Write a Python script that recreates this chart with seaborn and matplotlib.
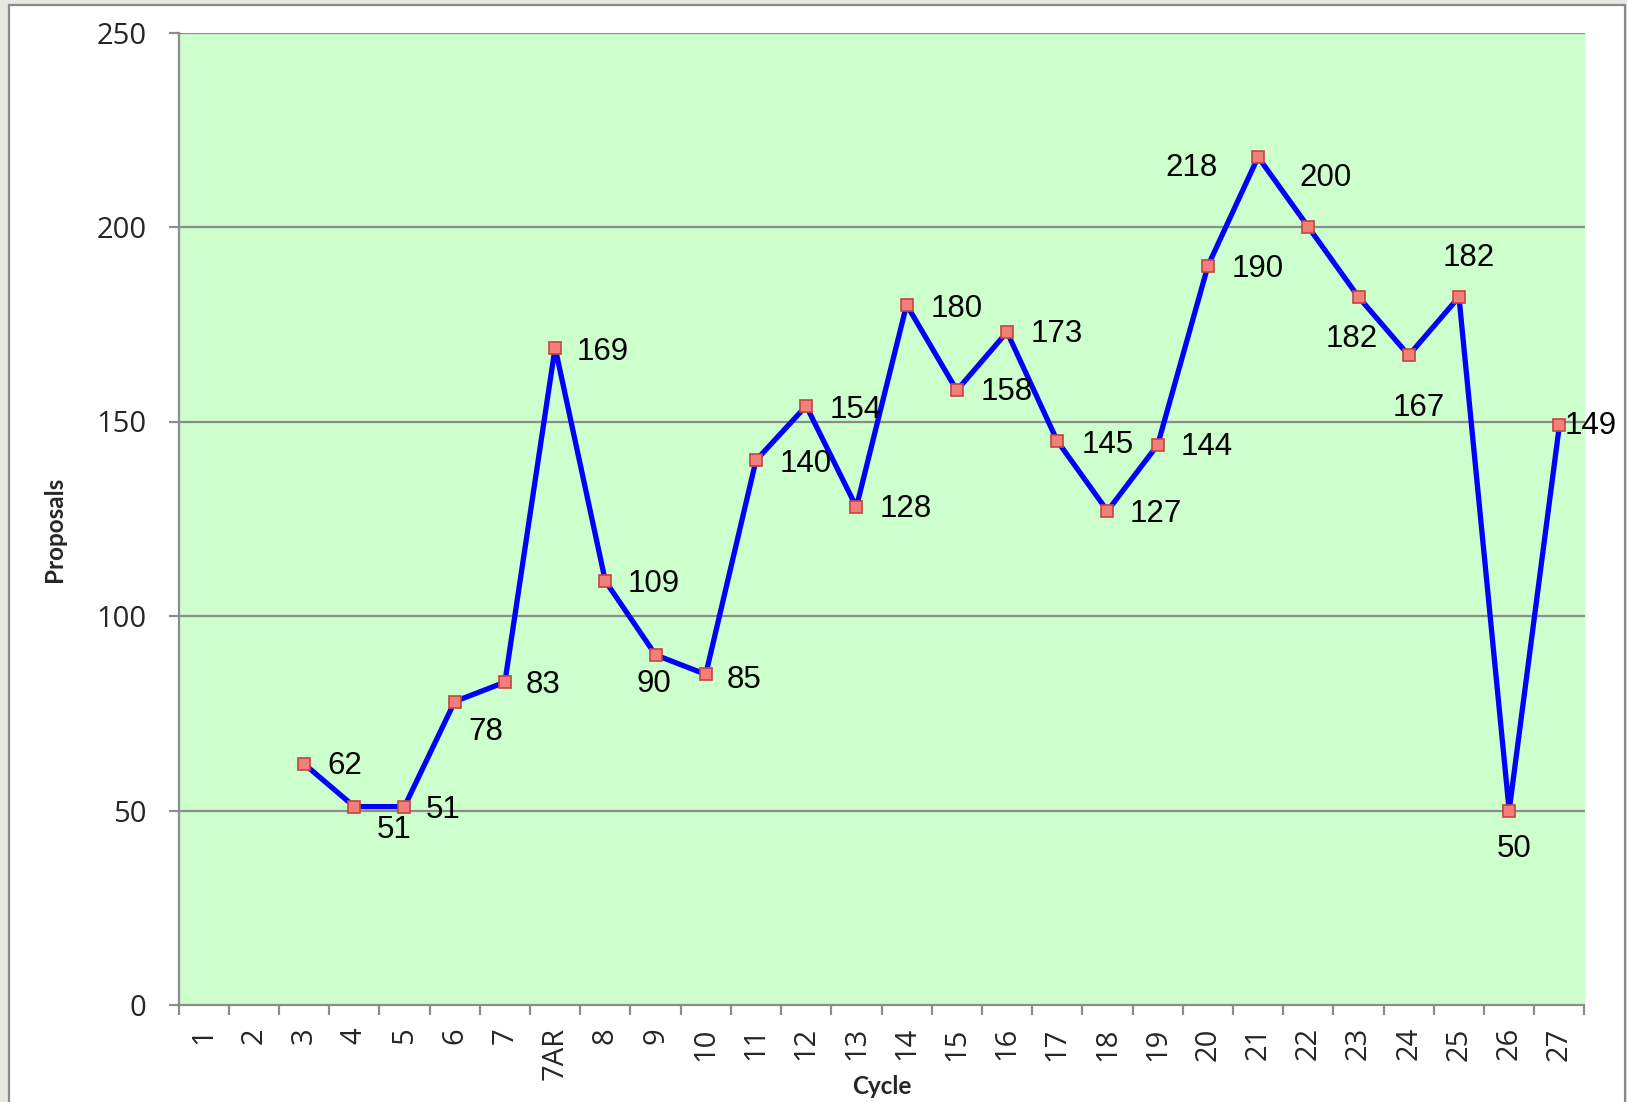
import numpy as np
import pandas as pd
import matplotlib
matplotlib.use("Agg")
import matplotlib.pyplot as plt
from matplotlib.patches import Rectangle
import seaborn as sns

# ---- data ----
categories = ["1", "2", "3", "4", "5", "6", "7", "7AR", "8", "9", "10", "11", "12",
              "13", "14", "15", "16", "17", "18", "19", "20", "21", "22", "23",
              "24", "25", "26", "27"]
proposals = [np.nan, np.nan, 62, 51, 51, 78, 83, 169, 109, 90, 85, 140, 154,
             128, 180, 158, 173, 145, 127, 144, 190, 218, 200, 182,
             167, 182, 50, 149]
y_ticks = [0, 50, 100, 150, 200, 250]

# label offsets (pixels, label centre relative to point; +y = down)
label_offsets = [None, None, (39, 2), (38, 23), (37, 3), (30, 29), (37, 3), (46, 4),
                 (47, 3), (-2, 28), (37, 5), (48, 3), (48, 4), (48, 2), (48, 4),
                 (48, 2), (48, 2), (49, 4), (47, 3), (47, 2), (48, 3), (-64, 11),
                 (17, -47), (-7, 40), (10, 51), (9, -38), (5, 37), (30, 1)]

sns.set_theme(style="white")
plt.rcParams['font.family'] = ['Open Sans', 'DejaVu Sans']

W, H = 1627, 1102
fig = plt.figure(figsize=(W / 100, H / 100), dpi=100)
fig.patch.set_facecolor("#E8E8E3")

# white panel
panel = Rectangle((9 / W, -0.05), (1625 - 9) / W, 1.05 - 5 / H,
                  transform=fig.transFigure, facecolor="white",
                  edgecolor="#8A8A8A", linewidth=1.6, zorder=-10)
fig.add_artist(panel)

ax = fig.add_axes([178.5 / W, 1 - 1005 / H, (1584.5 - 178.5) / W, (1005 - 32.5) / H])
ax.set_zorder(5)
ax.set_facecolor("#CCFFCC")

df = pd.DataFrame({"pos": np.arange(len(categories)), "val": proposals}).dropna()
sns.lineplot(data=df, x="pos", y="val", ax=ax, color="#0000FF", linewidth=3.8,
             marker="s", markersize=8.5, markerfacecolor="#F27F78",
             markeredgecolor="#C4463F", markeredgewidth=1.2, sort=False, zorder=5)

px = 1.0376
for i, v in enumerate(proposals):
    if np.isnan(v):
        continue
    dx, dy = label_offsets[i]
    ax.annotate(str(int(v)), (i, v), xytext=(dx * px, -dy * px),
                textcoords="offset pixels", ha="center", va="center",
                fontsize=22.5, family="Liberation Sans", color="black", zorder=6,
                annotation_clip=False)

n = len(categories)
ax.set_xlim(-0.5, n - 0.5)
ax.set_ylim(0, 250)
ax.set_yticks(y_ticks)
ax.set_yticklabels([str(t) for t in y_ticks], fontsize=21)
ax.set_xticks(np.arange(n))
ax.set_xticklabels(categories, rotation=90, fontsize=21)
ax.set_xticks(np.arange(n + 1) - 0.5, minor=True)

grid_c = "#8C8C8C"
for t in y_ticks[1:]:
    ax.axhline(t, color=grid_c, linewidth=1.6, zorder=1)

for s in ["top", "right"]:
    ax.spines[s].set_visible(False)
for s in ["left", "bottom"]:
    ax.spines[s].set_color(grid_c)
    ax.spines[s].set_linewidth(1.6)

ax.tick_params(axis="y", which="major", length=7, width=1.6, color=grid_c,
               direction="out", pad=16, left=True)
ax.tick_params(axis="x", which="major", length=0, pad=16, bottom=True)
ax.tick_params(axis="x", which="minor", length=7, width=1.6, color=grid_c,
               direction="out", bottom=True)

ax.set_xlabel("")
ax.set_ylabel("")
fig.text(54 / W, 1 - 529 / H, "Proposals", rotation=90, ha="center", va="center",
         fontsize=17.5, fontweight="bold", family="Lato")
fig.text(882 / W, 1 - 1086 / H, "Cycle", ha="center", va="center",
         fontsize=17.5, fontweight="bold", family="Lato")

fig.savefig("out.png", dpi=100, facecolor=fig.get_facecolor())
